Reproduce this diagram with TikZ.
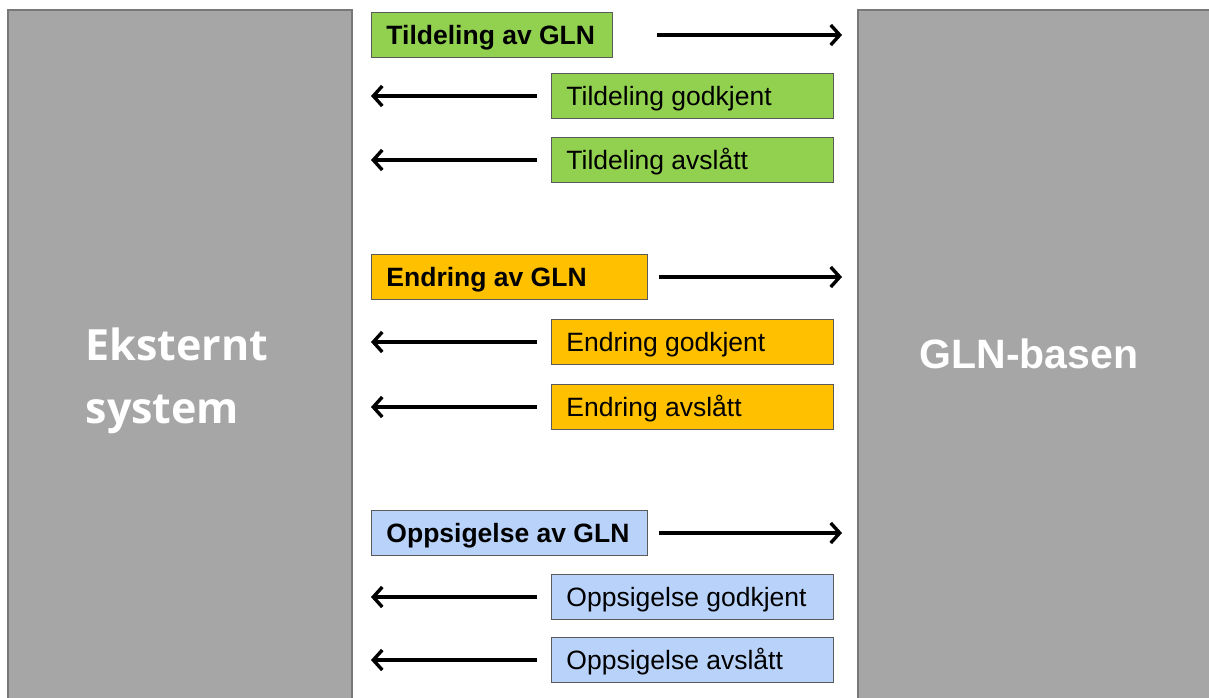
\documentclass[tikz,border=0pt]{standalone}
\usepackage{fontspec}
\setmainfont{Liberation Sans}
\newfontfamily\osans{Open Sans}
\usetikzlibrary{arrows.meta}
\definecolor{biggray}{RGB}{166,166,166}
\definecolor{bigedge}{RGB}{120,120,120}
\definecolor{msggreen}{RGB}{146,208,80}
\definecolor{msgorange}{RGB}{255,192,0}
\definecolor{msgblue}{RGB}{184,210,250}
\definecolor{msgedge}{RGB}{90,90,90}
\tikzset{
  sysbox/.style={draw=bigedge,line width=2pt,fill=biggray},
  systext/.style={text=white,font=\osans\bfseries\fontsize{43}{63}\selectfont,align=left},
  msgbox/.style={draw=msgedge,line width=0.9pt,rectangle,anchor=west,minimum height=45pt,
    inner xsep=15pt,inner ysep=0pt,text height=18.6pt,text depth=0pt,
    font=\fontsize{26.5}{30}\selectfont},
  req/.style={msgbox,font=\bfseries\fontsize{26.5}{30}\selectfont},
  flow/.style={line width=3.4pt,-{Straight Barb[length=9pt,width=20pt]}},
}
\newcommand{\lbox}[2]{\makebox[#1][l]{#2}}
\begin{document}
\begin{tikzpicture}[x=1pt,y=-1pt]
\useasboundingbox (0,0) rectangle (1209,697);
\clip (0,0) rectangle (1209,697);
% big system boxes
\draw[sysbox] (8,10) rectangle (352,710);
\draw[sysbox] (858,10) rectangle (1230,710);
\coordinate (lsys) at (352,0);
\coordinate (rsys) at (858,0);
\node[systext] (ext) at (177,381) {Eksternt\\system};
\node[text=white,font=\bfseries\fontsize{41}{50}\selectfont] (gln) at (1029,354) {GLN-basen};

% Tildeling
\node[req,fill=msggreen] (t1) at (371,35) {\lbox{211pt}{Tildeling av GLN}};
\node[msgbox,fill=msggreen] (t2) at (551,96) {\lbox{252pt}{Tildeling godkjent}};
\node[msgbox,fill=msggreen] (t3) at (551,160) {\lbox{252pt}{Tildeling avslått}};
% Endring
\node[req,fill=msgorange] (e1) at (371,277) {\lbox{246pt}{Endring av GLN}};
\node[msgbox,fill=msgorange] (e2) at (551,342) {\lbox{252pt}{Endring godkjent}};
\node[msgbox,fill=msgorange] (e3) at (551,407) {\lbox{252pt}{Endring avslått}};
% Oppsigelse
\node[req,fill=msgblue] (o1) at (371,533) {\lbox{246pt}{Oppsigelse av GLN}};
\node[msgbox,fill=msgblue] (o2) at (551,597) {\lbox{252pt}{Oppsigelse godkjent}};
\node[msgbox,fill=msgblue] (o3) at (551,660) {\lbox{252pt}{Oppsigelse avslått}};

% arrows
\draw[flow] ([xshift=44pt]t1.east) -- ([xshift=-16pt]rsys |- t1.east);
\draw[flow] ([xshift=-14pt]t2.west) -- ([xshift=19pt]lsys |- t2.west);
\draw[flow] ([xshift=-14pt]t3.west) -- ([xshift=19pt]lsys |- t3.west);
\draw[flow] ([xshift=11pt]e1.east) -- ([xshift=-16pt]rsys |- e1.east);
\draw[flow] ([xshift=-14pt]e2.west) -- ([xshift=19pt]lsys |- e2.west);
\draw[flow] ([xshift=-14pt]e3.west) -- ([xshift=19pt]lsys |- e3.west);
\draw[flow] ([xshift=11pt]o1.east) -- ([xshift=-16pt]rsys |- o1.east);
\draw[flow] ([xshift=-14pt]o2.west) -- ([xshift=19pt]lsys |- o2.west);
\draw[flow] ([xshift=-14pt]o3.west) -- ([xshift=19pt]lsys |- o3.west);
\end{tikzpicture}
\end{document}
